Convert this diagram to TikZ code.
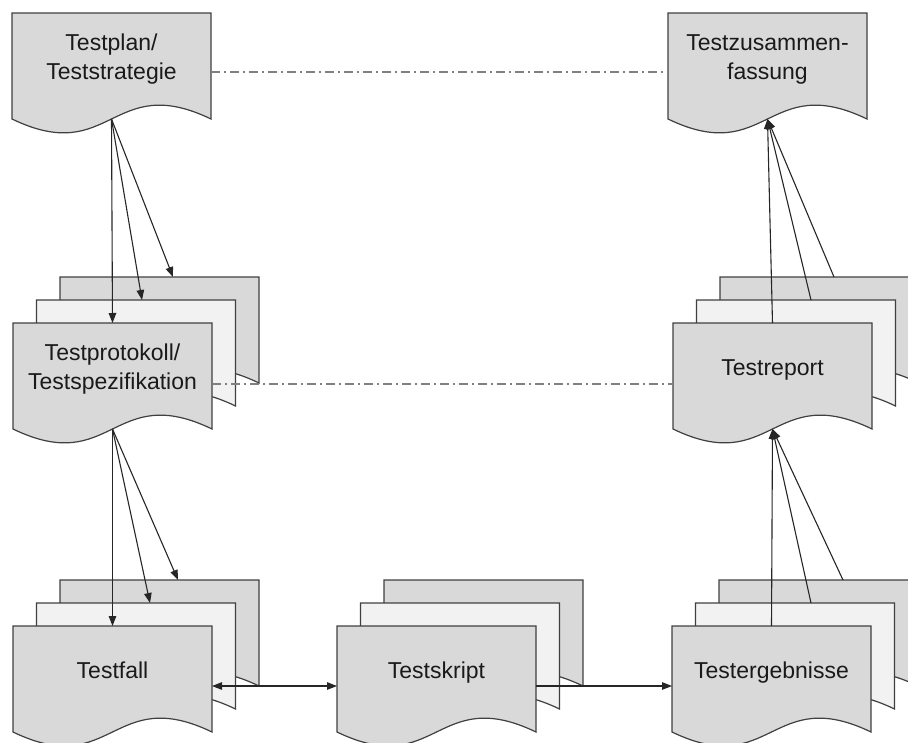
\documentclass[tikz,border=0pt]{standalone}
\usepackage{fontspec}
\setmainfont{Liberation Sans}
\usetikzlibrary{calc,arrows.meta}

\definecolor{sheetfront}{HTML}{D9D9D9}
\definecolor{sheetmid}{HTML}{F2F2F2}
\definecolor{outline}{HTML}{404040}
\definecolor{linkgray}{HTML}{808080}
\definecolor{textdark}{HTML}{1A1A1A}

\tikzset{
  sheetbox/.style={rectangle, inner sep=0pt, outer sep=0pt,
    minimum width=199pt, minimum height=106pt, anchor=north west},
  sheetline/.style={draw=outline, line width=1.2pt, line join=miter},
  doctext/.style={font=\fontsize{23}{29}\selectfont, text=textdark,
    align=center, inner sep=0pt, anchor=base},
  flow/.style={draw=black!85, line width=1.1pt, ->},
  flowboth/.style={draw=black!85, line width=1.1pt, <->},
  trace/.style={draw=linkgray, line width=1.3pt,
    dash pattern=on 9pt off 4pt on 2pt off 4pt},
}

% one document sheet: straight top and sides, wavy bottom edge
\newcommand\docsheet[4]{% name, x, y, fill
  \node[sheetbox] (#1) at (#2,#3) {};
  \path[sheetline, fill=#4] (#1.north west) -- (#1.north east) -- (#1.south east)
    .. controls ($(#1.south)+(0,-48)$) and ($(#1.south)+(0,48)$) .. (#1.south west)
    -- cycle;
}
% a stack of three sheets, front sheet at (x,y)
\newcommand\docstack[3]{% base name, x, y
  \docsheet{#1B}{#2+47}{#3-46}{sheetfront}
  \docsheet{#1M}{#2+23.5}{#3-23}{sheetmid}
  \docsheet{#1F}{#2}{#3}{sheetfront}
}

\begin{document}
\begin{tikzpicture}[x=1pt, y=-1pt, >={Triangle[length=10pt,width=7.5pt]}]
\useasboundingbox (0,0) rectangle (908,742);
\clip (0,0) rectangle (908,742);

% single documents
\docsheet{plan}{12}{13}{sheetfront}
\docsheet{sum}{668}{13}{sheetfront}

% stacked documents
\docstack{prot}{13}{323}
\docstack{rep}{673}{323}
\docstack{fall}{13}{626}
\docstack{skr}{337}{626}
\docstack{erg}{672}{626}

% labels (two-line labels sit on their last baseline)
\node[doctext] (planT) at ($(plan.north)+(0,66)$) {Testplan/\\Teststrategie};
\node[doctext] (sumT)  at ($(sum.north)+(0,66)$)  {Testzusammen-\\fassung};
\node[doctext] (protT) at ($(protF.north)+(0,66)$) {Testprotokoll/\\Testspezifikation};
\node[doctext] (repT)  at ($(repF.north)+(0,52)$)  {Testreport};
\node[doctext] (fallT) at ($(fallF.north)+(0,52)$) {Testfall};
\node[doctext] (skrT)  at ($(skrF.north)+(0,52)$)  {Testskript};
\node[doctext] (ergT)  at ($(ergF.north)+(0,52)$)  {Testergebnisse};

% trace links
\draw[trace] ($(plan.east)+(0,6)$) -- ($(sum.west)+(0,6)$);
\draw[trace] ($(protF.east)+(0,8)$) -- ($(repF.west)+(0,8)$);

% plan -> protocol sheets
\draw[flow] (plan.south) -- (protF.north);
\draw[flow] (plan.south) -- ($(protM.north)+(6,0)$);
\draw[flow] (plan.south) -- ($(protB.north)+(13.5,0)$);

% protocol -> test cases
\draw[flow] (protF.south) -- (fallF.north);
\draw[flow] (protF.south) -- ($(fallM.north)+(14,0)$);
\draw[flow] (protF.south) -- ($(fallB.north)+(18.5,0)$);

% reports -> summary
\draw[flow] (repF.north) -- (sum.south);
\draw[flow] ($(repM.north)+(15,0)$) -- (sum.south);
\draw[flow] ($(repB.north)+(14.5,0)$) -- (sum.south);

% results -> reports
\draw[flow] (ergF.north) -- (repF.south);
\draw[flow] ($(ergM.north)+(16,0)$) -- (repF.south);
\draw[flow] ($(ergB.north)+(24.5,0)$) -- (repF.south);

% test case <-> script -> results
\draw[flowboth] ($(fallF.east)+(0,7)$) -- ($(skrF.west)+(0,7)$);
\draw[flow] ($(skrF.east)+(0,7)$) -- ($(ergF.west)+(0,7)$);
\end{tikzpicture}
\end{document}
